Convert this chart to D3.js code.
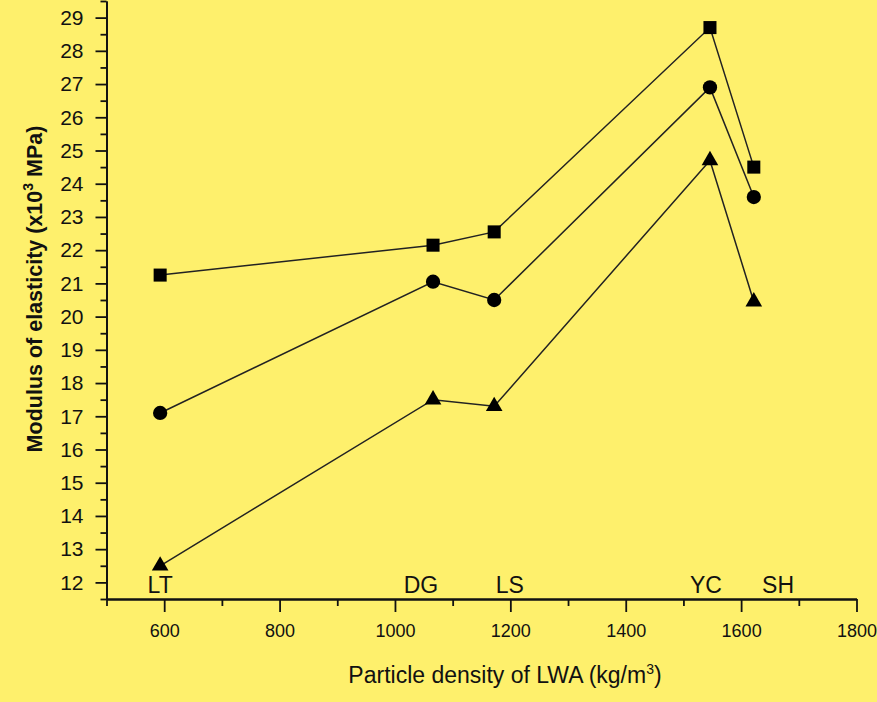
<!DOCTYPE html>
<html>
<head>
<meta charset="utf-8">
<script src="https://cdn.jsdelivr.net/npm/d3@7"></script>
<style>
  html, body { margin: 0; padding: 0; background: #fff; }
  svg { display: block; font-family: "Liberation Sans", Arial, sans-serif; }
</style>
</head>
<body>
<script>
// chart data
var categories = ['LT', 'DG', 'LS', 'YC', 'SH'];
var density = [593, 1066, 1172, 1546, 1622];          // kg/m3
var labelDensity = [593, 1045, 1199, 1539, 1664];     // where the category names sit
var squareValues = [21.25, 22.15, 22.55, 28.7, 24.5];
var circleValues = [17.1, 21.05, 20.5, 26.9, 23.6];
var triangleValues = [12.5, 17.5, 17.3, 24.7, 20.45];
var xTicks = [600, 800, 1000, 1200, 1400, 1600, 1800];
var yTicks = [12, 13, 14, 15, 16, 17, 18, 19, 20, 21, 22, 23, 24, 25, 26, 27, 28, 29];

var width = 877, height = 702;

var svg = d3.select('body').append('svg')
  .attr('width', width)
  .attr('height', height);

svg.append('rect')
  .attr('width', width)
  .attr('height', height)
  .attr('fill', '#fef06c');

var x = d3.scaleLinear().domain([500, 1800]).range([106.5, 856.5]);
var y = d3.scaleLinear().domain([11.5, 29.5]).range([599, 1]);

// minor ticks
var xMinor = d3.range(500, 1801, 100).filter(function(d) { return xTicks.indexOf(d) < 0; });
var yMinor = d3.range(11.5, 29.6, 0.5).filter(function(d) { return d % 1 !== 0; });

var xAxis = svg.append('g')
  .attr('transform', 'translate(0,' + y.range()[0] + ')')
  .call(d3.axisBottom(x).tickValues(xTicks).tickFormat(d3.format('d'))
    .tickSize(13).tickPadding(12).tickSizeOuter(0));
svg.append('g')
  .attr('transform', 'translate(0,' + y.range()[0] + ')')
  .call(d3.axisBottom(x).tickValues(xMinor).tickSize(7).tickFormat('').tickSizeOuter(0));

var yAxis = svg.append('g')
  .attr('transform', 'translate(' + x.range()[0] + ',0)')
  .call(d3.axisLeft(y).tickValues(yTicks).tickSize(11).tickPadding(12).tickSizeOuter(0));
svg.append('g')
  .attr('transform', 'translate(' + x.range()[0] + ',0)')
  .call(d3.axisLeft(y).tickValues(yMinor).tickSize(6).tickFormat('').tickSizeOuter(0));

svg.selectAll('.domain, .tick line')
  .attr('stroke', '#111')
  .attr('stroke-width', 1.8);

xAxis.selectAll('text')
  .attr('font-size', 18)
  .attr('fill', '#111')
  .attr('font-family', '"Liberation Sans", Arial, sans-serif');
yAxis.selectAll('text')
  .attr('font-size', 21)
  .attr('fill', '#111')
  .attr('font-family', '"Liberation Sans", Arial, sans-serif');

// axis titles
var xt = svg.append('text')
  .attr('x', 505)
  .attr('y', 683)
  .attr('text-anchor', 'middle')
  .attr('font-size', 23)
  .attr('fill', '#111');
xt.append('tspan').text('Particle density of LWA (kg/m');
xt.append('tspan').attr('dy', -9).attr('font-size', 14).text('3');
xt.append('tspan').attr('dy', 9).text(')');

var yt = svg.append('text')
  .attr('transform', 'translate(42,289) rotate(-90)')
  .attr('text-anchor', 'middle')
  .attr('font-size', 21.5)
  .attr('font-weight', 'bold')
  .attr('fill', '#111');
yt.append('tspan').text('Modulus of elasticity (x10');
yt.append('tspan').attr('dy', -9).attr('font-size', 14).text('3');
yt.append('tspan').attr('dy', 9).text(' MPa)');

// series
var series = [
  { values: squareValues, symbol: d3.symbolSquare, size: 170 },
  { values: circleValues, symbol: d3.symbolCircle, size: 160 },
  { values: triangleValues, symbol: d3.symbolTriangle, size: 120 }
];

var line = d3.line()
  .x(function(d) { return x(d[0]); })
  .y(function(d) { return y(d[1]); });

series.forEach(function(s) {
  var pts = density.map(function(d, i) { return [d, s.values[i]]; });
  svg.append('path')
    .datum(pts)
    .attr('d', line)
    .attr('fill', 'none')
    .attr('stroke', '#222')
    .attr('stroke-width', 1.5);
  svg.selectAll(null)
    .data(pts)
    .enter()
    .append('path')
    .attr('d', d3.symbol().type(s.symbol).size(s.size))
    .attr('transform', function(d) {
      return 'translate(' + x(d[0]) + ',' + y(d[1]) + ')';
    })
    .attr('fill', '#000');
});

// category names above the x axis
svg.selectAll('.cat')
  .data(categories)
  .enter()
  .append('text')
  .attr('class', 'cat')
  .attr('x', function(d, i) { return x(labelDensity[i]); })
  .attr('y', 593)
  .attr('text-anchor', 'middle')
  .attr('font-size', 23)
  .attr('fill', '#111')
  .text(function(d) { return d; });
</script>
</body>
</html>
